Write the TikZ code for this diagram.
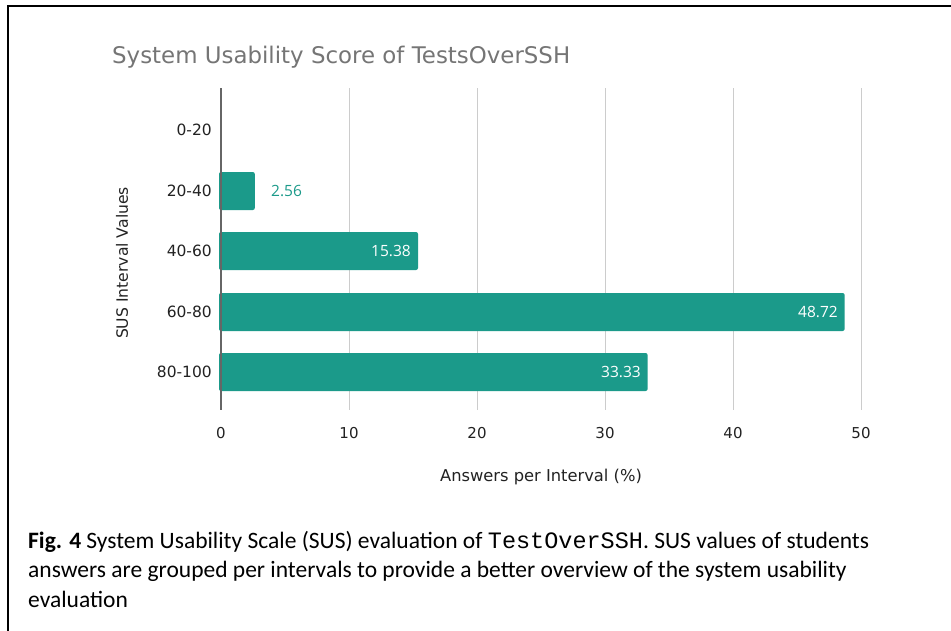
\documentclass[tikz,border=0pt]{standalone}
\usepackage{fontspec}
\setmainfont{Carlito}
\setmonofont{Liberation Mono}
\newfontfamily\chartfont{DejaVu Sans}
\newfontfamily\valfont{Open Sans}
\definecolor{barc}{RGB}{27,154,138}
\definecolor{titlec}{RGB}{117,117,117}
\definecolor{gridc}{RGB}{204,204,204}
\definecolor{axisc}{RGB}{102,102,102}
\definecolor{labc}{RGB}{34,34,34}
\tikzset{
  bar/.style={fill=barc, rounded corners=2pt},
  grid/.style={draw=gridc, line width=1pt},
  cat/.style={anchor=east, inner sep=0pt, font=\chartfont\fontsize{15.5}{18}\selectfont, text=labc},
  tick/.style={anchor=center, inner sep=0pt, font=\chartfont\fontsize{15}{18}\selectfont, text=labc},
  val/.style={anchor=east, inner sep=0pt, font=\valfont\fontsize{15.5}{18}\selectfont, text=white},
}
\begin{document}
\begin{tikzpicture}[x=1pt,y=-1pt]
\useasboundingbox (0,0) rectangle (951,630);
\fill[white] (0,0) rectangle (951,630);
% frame
\draw[line width=2pt, black] (8,631) -- (8,6) -- (952,6);
% title
\node[anchor=west, inner sep=0pt, text=titlec, font=\chartfont\fontsize{22.9}{26}\selectfont] (title) at (112,57) {System Usability Score of TestsOverSSH};
% grid
\foreach \v in {1,...,5} {
  \draw[grid] (221+128*\v,88) -- (221+128*\v,410);
}
% bars
\fill[bar] (219,172) rectangle (254.8,210);
\fill[bar] (219,232) rectangle (418,270);
\fill[bar] (219,293) rectangle (844.6,331);
\fill[bar] (219,353) rectangle (647.6,391);
% axis
\draw[axisc, line width=2pt] (221,88) -- (221,410);
% categories
\node[cat] (c1) at (212,130) {0-20};
\node[cat] (c2) at (212,191) {20-40};
\node[cat] (c3) at (212,251) {40-60};
\node[cat] (c4) at (212,312) {60-80};
\node[cat] (c5) at (212,372) {80-100};
% values
\node[anchor=west, inner sep=0pt, text=barc, font=\valfont\fontsize{15.5}{18}\selectfont] (v2) at (271,191) {2.56};
\node[val] (v3) at (411,251) {15.38};
\node[val] (v4) at (838,312) {48.72};
\node[val] (v5) at (641,372) {33.33};
% ticks
\node[tick] (t0) at (221,433) {0};
\node[tick] (t1) at (349,433) {10};
\node[tick] (t2) at (477,433) {20};
\node[tick] (t3) at (605,433) {30};
\node[tick] (t4) at (733,433) {40};
\node[tick] (t5) at (861,433) {50};
% axis titles
\node[inner sep=0pt, text=labc, font=\chartfont\fontsize{16.3}{19}\selectfont] (xt) at (541,477) {Answers per Interval (\%)};
\node[inner sep=0pt, text=labc, rotate=90, font=\chartfont\fontsize{15.6}{18}\selectfont] (yt) at (122,263) {SUS Interval Values};
% caption
\node[anchor=north west, inner sep=0pt, align=left, font=\fontsize{23.5}{29.5}\selectfont] (cap) at (28,531) {\textbf{Fig. 4} System Usability Scale (SUS) evaluation of \texttt{TestOverSSH}. SUS values of students\\answers are grouped per intervals to provide a better overview of the system usability\\evaluation};
\end{tikzpicture}
\end{document}
